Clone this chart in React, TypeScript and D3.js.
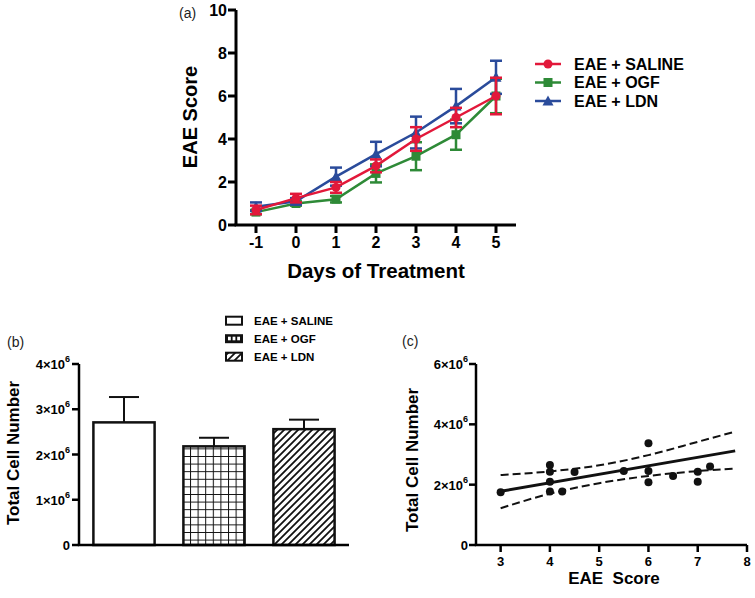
import React from "react";
import * as d3 from "d3";

// ---------- Panel (a) data ----------
const days = [-1, 0, 1, 2, 3, 4, 5];
const salineMean = [0.7, 1.25, 1.75, 2.75, 4.0, 5.0, 6.0];
const salineErr = [0.2, 0.2, 0.25, 0.3, 0.55, 0.45, 0.85];
const ogfMean = [0.6, 1.0, 1.2, 2.4, 3.2, 4.2, 6.0];
const ogfErr = [0.1, 0.1, 0.15, 0.42, 0.65, 0.7, 0.8];
const ldnMean = [0.85, 1.1, 2.25, 3.3, 4.3, 5.53, 6.87];
const ldnErr = [0.2, 0.15, 0.42, 0.57, 0.74, 0.8, 0.77];
const aYTicks = [0, 2, 4, 6, 8, 10];
const aLegend = ["EAE + SALINE", "EAE + OGF", "EAE + LDN"];

// ---------- Panel (b) data ----------
const groups = ["EAE + SALINE", "EAE + OGF", "EAE + LDN"];
const cellMean = [2.71e6, 2.18e6, 2.56e6];
const cellErr = [0.56e6, 0.19e6, 0.21e6];
const bYTicks = [0, 1e6, 2e6, 3e6, 4e6];

// ---------- Panel (c) data ----------
const scatterX = [3, 4, 4, 4, 4, 4.25, 4.5, 5.5, 6, 6, 6, 6.5, 7, 7, 7.25];
const scatterY = [1.75e6, 2.65e6, 2.43e6, 2.1e6, 1.77e6, 1.77e6, 2.42e6, 2.45e6, 3.37e6, 2.45e6, 2.08e6, 2.29e6, 2.43e6, 2.1e6, 2.6e6];
const fitLineX = [3, 7.76];
const fitLineY = [1.78e6, 3.12e6];
const bandX = [3, 4, 5, 6, 7, 7.76];
const bandUpper = [2.32e6, 2.44e6, 2.64e6, 2.98e6, 3.42e6, 3.76e6];
const bandLower = [1.22e6, 1.7e6, 2.05e6, 2.29e6, 2.45e6, 2.53e6];
const cXTicks = [3, 4, 5, 6, 7, 8];
const cYTicks = [0, 2e6, 4e6, 6e6];

const FONT = "'Liberation Sans', Arial, Helvetica, sans-serif";
const RED = "#e2183a";
const GREEN = "#2e8a37";
const BLUE = "#2a4b9b";

function SciLabel({ x, y, v, size, supSize }: { x: number; y: number; v: number; size: number; supSize: number }) {
  if (v === 0) {
    return (
      <text x={x} y={y} textAnchor="end" fontSize={size} fontWeight="bold" dominantBaseline="central">0</text>
    );
  }
  const m = Math.round(v / 1e6);
  return (
    <text x={x} y={y} textAnchor="end" fontSize={size} fontWeight="bold" dominantBaseline="central">
      <tspan>{m}×10</tspan>
      <tspan fontSize={supSize} dy={-5}>6</tspan>
    </text>
  );
}

function Marker({ type, x, y, color }: { type: string; x: number; y: number; color: string }) {
  if (type === "circle") return <circle cx={x} cy={y} r={4.5} fill={color} />;
  if (type === "square") return <rect x={x - 4.5} y={y - 4.5} width={9} height={9} fill={color} />;
  const s = 5.5;
  return <path d={`M${x},${y - s}L${x + s},${y + s * 0.8}L${x - s},${y + s * 0.8}Z`} fill={color} />;
}

export default function App() {
  // Panel (a) scales
  const xA = d3.scaleLinear().domain([-1.5, 5.5]).range([236, 516]);
  const yA = d3.scaleLinear().domain([0, 10]).range([225, 10]);
  const lineA = d3.line<number>().x((_, i) => xA(days[i])).y((d) => yA(d));
  const seriesA = [
    { name: aLegend[1], mean: ogfMean, err: ogfErr, color: GREEN, marker: "square" },
    { name: aLegend[2], mean: ldnMean, err: ldnErr, color: BLUE, marker: "triangle" },
    { name: aLegend[0], mean: salineMean, err: salineErr, color: RED, marker: "circle" },
  ];
  const legendOrder = [seriesA[2], seriesA[0], seriesA[1]];

  // Panel (b) scales
  const xB = d3.scaleBand<string>().domain(groups).range([79, 349]).paddingInner(0.32).paddingOuter(0.16);
  const yB = d3.scaleLinear().domain([0, 4e6]).range([545, 364]);
  const fills = ["#fff", "url(#gridPat)", "url(#hatchPat)"];

  // Panel (c) scales
  const xC = d3.scaleLinear().domain([2.5, 8]).range([476, 747]);
  const yC = d3.scaleLinear().domain([0, 6e6]).range([545, 364]);
  const bandLine = d3.line<number>().x((_, i) => xC(bandX[i])).y((d) => yC(d)).curve(d3.curveMonotoneX);
  const fitLine = d3.line<number>().x((_, i) => xC(fitLineX[i])).y((d) => yC(d));

  return (
    <svg width={755} height={598} style={{ position: "absolute", left: 0, top: 0, background: "#fff" }} fontFamily={FONT}>
      <defs>
        <pattern id="gridPat" patternUnits="userSpaceOnUse" width={7.6} height={7.6} x={0} y={0}>
          <rect width={7.6} height={7.6} fill="#fff" />
          <path d="M0,0H7.6M0,0V7.6" stroke="#111" strokeWidth={2} />
        </pattern>
        <pattern id="hatchPat" patternUnits="userSpaceOnUse" width={7} height={7}>
          <rect width={7} height={7} fill="#fff" />
          <path d="M-1,1L1,-1M0,7L7,0M6,8L8,6" stroke="#111" strokeWidth={1.8} />
        </pattern>
      </defs>

      {/* ================= Panel (a) ================= */}
      <text x={179} y={18} fontSize={14} fill="#222">(a)</text>
      {/* y axis */}
      <line x1={xA(-1.5)} x2={xA(-1.5)} y1={yA(10)} y2={yA(0)} stroke="#000" strokeWidth={3} />
      {aYTicks.map((t) => (
        <g key={"ay" + t}>
          <line x1={xA(-1.5) - 8} x2={xA(-1.5)} y1={yA(t)} y2={yA(t)} stroke="#000" strokeWidth={3} />
          <text x={xA(-1.5) - 9} y={yA(t)} textAnchor="end" dominantBaseline="central" fontSize={16} fontWeight="bold">{t}</text>
        </g>
      ))}
      {/* x axis */}
      <line x1={xA(-1.5) - 1.5} x2={xA(5.5)} y1={yA(0)} y2={yA(0)} stroke="#000" strokeWidth={3} />
      {days.map((d) => (
        <g key={"ax" + d}>
          <line x1={xA(d)} x2={xA(d)} y1={yA(0)} y2={yA(0) + 8} stroke="#000" strokeWidth={3} />
          <text x={xA(d)} y={yA(0) + 17} textAnchor="middle" dominantBaseline="central" fontSize={16} fontWeight="bold">{d}</text>
        </g>
      ))}
      <text x={376} y={278} textAnchor="middle" fontSize={20.5} fontWeight="bold">Days of Treatment</text>
      <text transform={`translate(197,117) rotate(-90)`} textAnchor="middle" fontSize={20} fontWeight="bold">EAE Score</text>

      {seriesA.map((s) => (
        <g key={s.name}>
          <path d={lineA(s.mean) || ""} fill="none" stroke={s.color} strokeWidth={2.5} />
          {s.mean.map((m, i) => {
            const x = xA(days[i]);
            return (
              <g key={i}>
                <line x1={x} x2={x} y1={yA(m - s.err[i])} y2={yA(m + s.err[i])} stroke={s.color} strokeWidth={2.5} />
                <line x1={x - 6} x2={x + 6} y1={yA(m + s.err[i])} y2={yA(m + s.err[i])} stroke={s.color} strokeWidth={2.5} />
                <line x1={x - 6} x2={x + 6} y1={yA(m - s.err[i])} y2={yA(m - s.err[i])} stroke={s.color} strokeWidth={2.5} />
                <Marker type={s.marker} x={x} y={yA(m)} color={s.color} />
              </g>
            );
          })}
        </g>
      ))}
      {/* legend (a) */}
      {legendOrder.map((s, i) => {
        const y = 64 + i * 18.5;
        return (
          <g key={"la" + i}>
            <line x1={535} x2={561} y1={y} y2={y} stroke={s.color} strokeWidth={2.5} />
            <Marker type={s.marker} x={548} y={y} color={s.color} />
            <text x={574} y={y} dominantBaseline="central" fontSize={16} fontWeight="bold">{s.name}</text>
          </g>
        );
      })}

      {/* ================= Panel (b) ================= */}
      <text x={7} y={347} fontSize={14} fill="#222">(b)</text>
      {/* legend (b) */}
      {groups.map((g, i) => {
        const y = 320.7 + i * 18;
        return (
          <g key={"lb" + i}>
            {i === 1 ? (
              <g>
                <rect x={225} y={y - 4.5} width={18} height={9} fill="#111" />
                {[0, 1, 2].map((k) => (
                  <rect key={k} x={228 + k * 4.6} y={y - 2} width={2.8} height={3.6} fill="#fff" />
                ))}
              </g>
            ) : (
              <rect x={226} y={y - 4} width={16} height={8} fill={fills[i]} stroke="#111" strokeWidth={2} />
            )}
            <text x={254} y={y} dominantBaseline="central" fontSize={11.5} fontWeight="bold">{g}</text>
          </g>
        );
      })}
      {/* bars */}
      {groups.map((g, i) => {
        const x0 = xB(g) || 0;
        const w = xB.bandwidth();
        const cx = x0 + w / 2;
        return (
          <g key={"bar" + i}>
            <line x1={cx} x2={cx} y1={yB(cellMean[i])} y2={yB(cellMean[i] + cellErr[i])} stroke="#111" strokeWidth={2} />
            <line x1={cx - 15} x2={cx + 15} y1={yB(cellMean[i] + cellErr[i])} y2={yB(cellMean[i] + cellErr[i])} stroke="#111" strokeWidth={2} />
            <rect x={x0} y={yB(cellMean[i])} width={w} height={yB(0) - yB(cellMean[i])} fill={fills[i]} stroke="#111" strokeWidth={2.5} />
          </g>
        );
      })}
      {/* axes (b) */}
      <line x1={79} x2={79} y1={yB(4e6)} y2={yB(0)} stroke="#000" strokeWidth={2.5} />
      <line x1={77.8} x2={349} y1={yB(0)} y2={yB(0)} stroke="#000" strokeWidth={2.5} />
      {bYTicks.map((t) => (
        <g key={"by" + t}>
          <line x1={72} x2={79} y1={yB(t)} y2={yB(t)} stroke="#000" strokeWidth={2.5} />
          <SciLabel x={70} y={yB(t)} v={t} size={13} supSize={9} />
        </g>
      ))}
      <text transform={`translate(19,453) rotate(-90)`} textAnchor="middle" fontSize={17} fontWeight="bold">Total Cell Number</text>

      {/* ================= Panel (c) ================= */}
      <text x={402} y={346} fontSize={14} fill="#222">(c)</text>
      <path d={bandLine(bandUpper) || ""} fill="none" stroke="#111" strokeWidth={2} strokeDasharray="8,4" />
      <path d={bandLine(bandLower) || ""} fill="none" stroke="#111" strokeWidth={2} strokeDasharray="8,4" />
      <path d={fitLine(fitLineY) || ""} fill="none" stroke="#111" strokeWidth={3} />
      {scatterX.map((x, i) => (
        <circle key={"pt" + i} cx={xC(x)} cy={yC(scatterY[i])} r={4} fill="#111" />
      ))}
      <line x1={476} x2={476} y1={yC(6e6)} y2={yC(0)} stroke="#000" strokeWidth={2.5} />
      <line x1={474.8} x2={747} y1={yC(0)} y2={yC(0)} stroke="#000" strokeWidth={2.5} />
      {cYTicks.map((t) => (
        <g key={"cy" + t}>
          <line x1={469} x2={476} y1={yC(t)} y2={yC(t)} stroke="#000" strokeWidth={2.5} />
          <SciLabel x={468} y={yC(t)} v={t} size={13} supSize={9} />
        </g>
      ))}
      {cXTicks.map((t) => (
        <g key={"cx" + t}>
          <line x1={xC(t)} x2={xC(t)} y1={yC(0)} y2={yC(0) + 7} stroke="#000" strokeWidth={2.5} />
          <text x={xC(t)} y={yC(0) + 16} textAnchor="middle" dominantBaseline="central" fontSize={13} fontWeight="bold">{t}</text>
        </g>
      ))}
      <text x={614} y={584} textAnchor="middle" fontSize={17} fontWeight="bold" xmlSpace="preserve">EAE  Score</text>
      <text transform={`translate(418,460) rotate(-90)`} textAnchor="middle" fontSize={17} fontWeight="bold">Total Cell Number</text>
    </svg>
  );
}
